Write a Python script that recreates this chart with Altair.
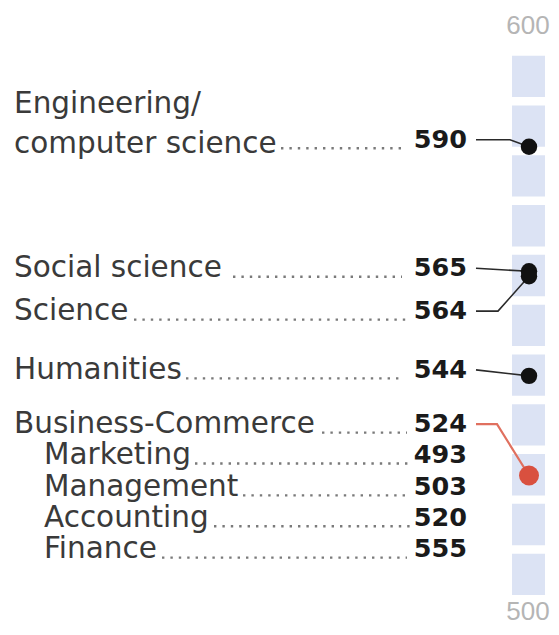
import altair as alt
import pandas as pd

# ---- data ----
categories = ["Engineering/ computer science", "Social science", "Science", "Humanities", "Business-Commerce"]
scores = [590, 565, 564, 544, 524]
highlight = [False, False, False, False, True]
sub_categories = ["Marketing", "Management", "Accounting", "Finance"]
sub_scores = [493, 503, 520, 555]
scale_ends = [600, 500]
segment_starts = list(range(500, 610, 10))
segment_len = 8.3

# ---- layout (x in layout units, rows in score-axis units) ----
label_lines = [["Engineering/", "computer science"], ["Social science"], ["Science"], ["Humanities"], ["Business-Commerce"]]
line_gap = 8.0
row_pos = [591.4, 565.6, 557.0, 545.2, 534.3]
sub_row_pos = [528.1, 521.7, 515.5, 509.2]
label_x, sub_label_x, value_x = 14, 44, 467
leader_start = [281, 233, 134, 186, 322]
leader_end = [407, 402, 407, 402, 407]
sub_leader_start = [195, 243, 214, 162]
sub_leader_end = [411, 411, 411, 407]
conn_start = 476
conn_bend = [510, None, 498, None, 497]
col_x0, col_x1, dot_x = 512, 545, 529
end_label_pos = [614.2, 496.6]

xs = alt.Scale(domain=[8, 551], nice=False, zero=False)
ys = alt.Scale(domain=[493.57, 617.87], nice=False, zero=False)
FONT = "DejaVu Sans"

# segments of the scale column
seg = pd.DataFrame({"y": segment_starts, "y2": [s + segment_len for s in segment_starts],
                    "x": col_x0, "x2": col_x1})
boxes = alt.Chart(seg).mark_rect(color="#dce3f4").encode(
    x=alt.X("x:Q", scale=xs, axis=None), x2="x2", y=alt.Y("y:Q", scale=ys, axis=None), y2="y2")

# labels
lab_rows = []
for lines, r in zip(label_lines, row_pos):
    n = len(lines)
    for i, t in enumerate(lines):
        lab_rows.append({"x": label_x, "y": r + (n - 1 - i) * line_gap - (0.8 if n > 1 else 0), "t": t})
for t, r in zip(sub_categories, sub_row_pos):
    lab_rows.append({"x": sub_label_x, "y": r, "t": t})
labels = alt.Chart(pd.DataFrame(lab_rows)).mark_text(
    align="left", baseline="middle", font=FONT, fontSize=29.5, color="#3a3a3a").encode(
    x=alt.X("x:Q", scale=xs, axis=None), y=alt.Y("y:Q", scale=ys, axis=None), text="t:N")

# values
val_rows = [{"x": value_x, "y": r, "t": str(s)} for s, r in zip(scores, row_pos)]
val_rows += [{"x": value_x, "y": r, "t": str(s)} for s, r in zip(sub_scores, sub_row_pos)]
values = alt.Chart(pd.DataFrame(val_rows)).mark_text(
    align="right", baseline="middle", font=FONT, fontSize=25.5, fontWeight="bold", color="#1a1a1a").encode(
    x=alt.X("x:Q", scale=xs, axis=None), y=alt.Y("y:Q", scale=ys, axis=None), text="t:N")

# dotted leaders
ld_rows = [{"x": a, "x2": b, "y": r - 1.7} for a, b, r in zip(leader_start, leader_end, row_pos)]
ld_rows += [{"x": a, "x2": b, "y": r - 1.7} for a, b, r in zip(sub_leader_start, sub_leader_end, sub_row_pos)]
leaders = alt.Chart(pd.DataFrame(ld_rows)).mark_rule(
    color="#7a7a7a", strokeWidth=2.4, strokeDash=[2.4, 6]).encode(
    x=alt.X("x:Q", scale=xs, axis=None), x2="x2", y=alt.Y("y:Q", scale=ys, axis=None))

# connectors
cn_rows = []
for i, (s, r, b, h) in enumerate(zip(scores, row_pos, conn_bend, highlight)):
    col = "#e0705f" if h else "#2a2a2a"
    w = 2.2 if h else 1.6
    pts = [(conn_start, r)]
    if b is not None:
        pts.append((b, r))
    pts.append((dot_x, s))
    for k, (px, py) in enumerate(pts):
        cn_rows.append({"id": i, "o": k, "x": px, "y": py, "c": col, "w": w})
connectors = alt.Chart(pd.DataFrame(cn_rows)).mark_line().encode(
    x=alt.X("x:Q", scale=xs, axis=None), y=alt.Y("y:Q", scale=ys, axis=None),
    detail="id:N", order="o:Q",
    color=alt.Color("c:N", scale=None), strokeWidth=alt.StrokeWidth("w:Q", scale=None))

# dots
dot_df = pd.DataFrame({"x": dot_x, "y": scores,
                       "c": ["#d9503f" if h else "#111111" for h in highlight],
                       "s": [400 if h else 270 for h in highlight]})
dots = alt.Chart(dot_df).mark_circle(opacity=1).encode(
    x=alt.X("x:Q", scale=xs, axis=None), y=alt.Y("y:Q", scale=ys, axis=None),
    color=alt.Color("c:N", scale=None), size=alt.Size("s:Q", scale=None))

# scale end labels
end_df = pd.DataFrame({"x": dot_x - 1, "y": end_label_pos, "t": [str(v) for v in scale_ends]})
ends = alt.Chart(end_df).mark_text(
    align="center", baseline="middle", font="Liberation Sans", fontSize=26, color="#b5b5b5").encode(
    x=alt.X("x:Q", scale=xs, axis=None), y=alt.Y("y:Q", scale=ys, axis=None), text="t:N")

chart = alt.layer(boxes, leaders, connectors, dots, labels, values, ends).properties(
    width=543, height=619, padding=0, autosize="none", background="white"
).configure_view(stroke=None)

chart.save("out.html", embed_options={"renderer": "svg", "actions": False})
